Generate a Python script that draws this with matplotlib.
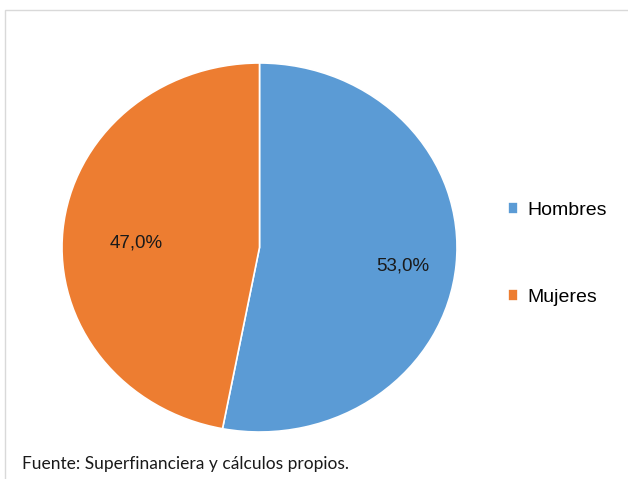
import matplotlib.pyplot as plt
from matplotlib.patches import Rectangle
from matplotlib.transforms import offset_copy

# datos
categorias = ['Hombres', 'Mujeres']
valores = [53.0, 47.0]
colores = ['#5B9BD5', '#ED7D31']
fuente = 'Fuente: Superfinanciera y cálculos propios.'

plt.rcParams['font.family'] = ['Liberation Sans', 'DejaVu Sans']

W, H = 628, 479
fig = plt.figure(figsize=(W / 100, H / 100), dpi=100)

# marco del grafico
fig.patches.append(Rectangle((5 / W, -0.1), 1.1, (H - 10) / H + 0.1,
                             transform=fig.transFigure, fill=False,
                             edgecolor='#D9D9D9', linewidth=1))

# eje para el pie (ligeramente ovalado como el original)
ax = fig.add_axes([62 / W, (H - 432) / H, 395 / W, 369 / H])
wedges, textos, pcts = ax.pie(valores, colors=colores, startangle=90, counterclock=False,
                              autopct=lambda p: f'{p:.1f}%'.replace('.', ','),
                              pctdistance=0.68,
                              wedgeprops=dict(edgecolor='white', linewidth=1.2),
                              textprops=dict(fontsize=13.5, color='#1a1a1a'))
ax.set_aspect('auto')
ax.set_xlim(-1, 1)
ax.set_ylim(-1, 1)

# mover un poco las etiquetas de porcentaje
for t in pcts:
    t.set_transform(offset_copy(ax.transData, fig=fig, x=10, y=-7, units='dots'))

fig.legend(wedges, categorias, loc='center left', bbox_to_anchor=(490 / W, 1 - 254 / H),
           frameon=False, fontsize=14, handlelength=0.55, handleheight=0.55,
           handletextpad=0.45, labelspacing=3.6)

fig.text(22 / W, 1 - 464 / H, fuente, fontsize=12.5, family=['Lato', 'DejaVu Sans'],
         va='center', ha='left', color='#1a1a1a')

fig.savefig('out.png', dpi=100)
